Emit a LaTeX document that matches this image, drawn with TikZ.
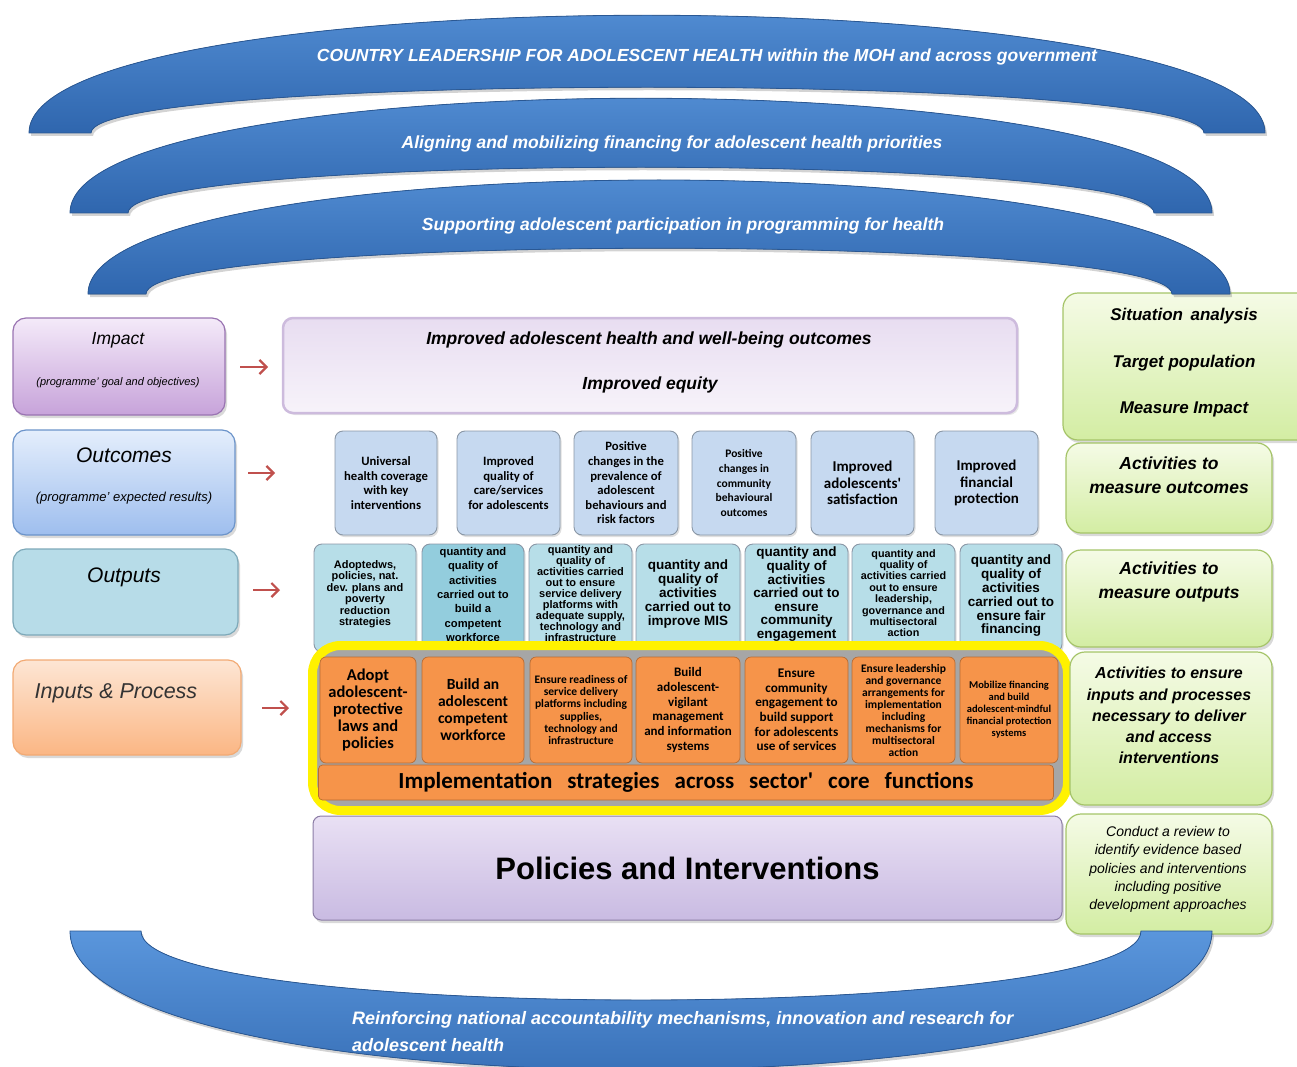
\documentclass[tikz,border=0pt]{standalone}
\usepackage{fontspec}
\setmainfont{Liberation Sans}
\newfontfamily\calibri{Carlito}
\usetikzlibrary{shadows,arrows.meta}

\definecolor{arcTop}{HTML}{5A96DC}
\definecolor{arcBot}{HTML}{2F66AE}
\definecolor{arcEdge}{HTML}{2A5894}
\definecolor{impTop}{HTML}{F4EAF9}
\definecolor{impBot}{HTML}{C7A3DA}
\definecolor{impEdge}{HTML}{9A74B2}
\definecolor{outcTop}{HTML}{E4EEFC}
\definecolor{outcBot}{HTML}{9EBEEE}
\definecolor{outcEdge}{HTML}{6C94CA}
\definecolor{outpFill}{HTML}{B7DCE8}
\definecolor{outpEdge}{HTML}{7EA9B9}
\definecolor{inpTop}{HTML}{FDE6D4}
\definecolor{inpBot}{HTML}{FBB684}
\definecolor{inpEdge}{HTML}{F2AA74}
\definecolor{goalTop}{HTML}{E8DDF1}
\definecolor{goalBot}{HTML}{F7F3FA}
\definecolor{goalEdge}{HTML}{CDBBDD}
\definecolor{resBox}{HTML}{C6D9F0}
\definecolor{boxEdge}{HTML}{8A97A6}
\definecolor{prodBox}{HTML}{B7DEE8}
\definecolor{prodDark}{HTML}{93CDDD}
\definecolor{actBox}{HTML}{F6944A}
\definecolor{actEdge}{HTML}{B86B32}
\definecolor{polTop}{HTML}{E9E0F4}
\definecolor{polBot}{HTML}{C9BBE2}
\definecolor{polEdge}{HTML}{8C7DA6}
\definecolor{greenTop}{HTML}{F5FBE6}
\definecolor{greenBot}{HTML}{D3EDA3}
\definecolor{greenEdge}{HTML}{A5C468}
\definecolor{arrowRed}{HTML}{C0504D}

\tikzset{
  arcband/.style={top color=arcTop, bottom color=arcBot, draw=arcEdge, line width=0.8pt,
    drop shadow={opacity=0.35, shadow xshift=2pt, shadow yshift=-3pt}},
  arctext/.style={text=white, inner sep=0pt, font=\fontsize{17.5}{20}\selectfont\bfseries\itshape},
  leftbox/.style={rounded corners=13pt, line width=1.2pt, inner sep=0pt,
    drop shadow={opacity=0.3, shadow xshift=2pt, shadow yshift=-3pt}},
  lefttitle/.style={inner sep=0pt, font=\fontsize{21}{24}\selectfont\itshape},
  leftnote/.style={inner sep=0pt, font=\fontsize{11}{13}\selectfont\itshape},
  sidebox/.style={rounded corners=15pt, top color=greenTop, bottom color=greenBot, draw=greenEdge,
    line width=1.2pt, inner sep=0pt, drop shadow={opacity=0.3, shadow xshift=2pt, shadow yshift=-3pt}},
  sidetext/.style={inner sep=0pt, align=center, font=\bfseries\itshape},
  resultbox/.style={rounded corners=8pt, fill=resBox, draw=boxEdge, line width=0.9pt, inner sep=0pt,
    align=center, font=\calibri\bfseries, drop shadow={opacity=0.25, shadow xshift=1.5pt, shadow yshift=-2pt}},
  productbox/.style={rounded corners=8pt, fill=prodBox, draw=boxEdge, line width=0.9pt, inner sep=0pt,
    minimum height=108pt, drop shadow={opacity=0.25, shadow xshift=1.5pt, shadow yshift=-2pt}},
  producttext/.style={inner sep=0pt, align=center, anchor=north, font=\bfseries},
  actionbox/.style={rounded corners=6pt, fill=actBox, draw=actEdge, line width=0.7pt, inner sep=0pt,
    minimum height=106pt, align=center, font=\calibri\bfseries},
  redarrow/.style={draw=arrowRed, line width=2.2pt, -{Straight Barb[length=7pt,width=14pt]}}
}

\begin{document}
\begin{tikzpicture}[x=1pt,y=-1pt]
\useasboundingbox (0,0) rectangle (1297,1067);

% left column
\node[leftbox, top color=impTop, bottom color=impBot, draw=impEdge, minimum width=212pt, minimum height=97pt] (impact) at (119,366.5) {};
\node[lefttitle, font=\fontsize{17.5}{20}\selectfont\itshape] (impacttitle) at (118,340) {Impact};
\node[leftnote, font=\fontsize{11}{12}\selectfont\itshape] (impactnote) at (118,383) {(programme' goal and objectives)};

\node[leftbox, top color=outcTop, bottom color=outcBot, draw=outcEdge, minimum width=222pt, minimum height=105pt] (outcomes) at (124,482.5) {};
\node[lefttitle] (outcomestitle) at (124,455) {Outcomes};
\node[leftnote, font=\fontsize{13}{15}\selectfont\itshape] (outcomesnote) at (124,498) {(programme' expected results)};

\node[leftbox, fill=outpFill, draw=outpEdge, minimum width=225pt, minimum height=86pt] (outputs) at (125.5,592) {};
\node[lefttitle] (outputstitle) at (124,577) {Outputs};

\node[leftbox, top color=inpTop, bottom color=inpBot, draw=inpEdge, minimum width=228pt, minimum height=95pt] (inputs) at (127,707.5) {};
\node[lefttitle, text=black!80, font=\fontsize{21.5}{24}\selectfont\itshape] (inputstitle) at (116,693) {Inputs \& Process};

% arrows to the middle
\coordinate (impactfrom) at (240,367);
\coordinate (impactto) at (268,367);
\coordinate (outcomesfrom) at (248,473);
\coordinate (outcomesto) at (275,473);
\coordinate (outputsfrom) at (253,590);
\coordinate (outputsto) at (280,590);
\coordinate (inputsfrom) at (262,708);
\coordinate (inputsto) at (289,708);
\draw[redarrow] (impactfrom) -- (impactto);
\draw[redarrow] (outcomesfrom) -- (outcomesto);
\draw[redarrow] (outputsfrom) -- (outputsto);
\draw[redarrow] (inputsfrom) -- (inputsto);

% impact
\node[rounded corners=10pt, top color=goalTop, bottom color=goalBot, draw=goalEdge, line width=2.5pt,
  minimum width=734pt, minimum height=95pt, drop shadow={opacity=0.2, shadow xshift=2pt, shadow yshift=-2pt}] (goal) at (650,365.5) {};
\node[inner sep=0pt, font=\fontsize{17.5}{19}\selectfont\bfseries\itshape] (goalline1) at (649,340) {Improved adolescent health and well-being outcomes};
\node[inner sep=0pt, font=\fontsize{17.5}{19}\selectfont\bfseries\itshape] (goalline2) at (650,385) {Improved equity};

% outcomes row
\node[resultbox, minimum width=102pt, minimum height=104pt, font=\calibri\bfseries\fontsize{12.7}{14.7}\selectfont] (res1) at (386,483) {Universal\\health coverage\\with key\\interventions};
\node[resultbox, minimum width=103pt, minimum height=104pt, font=\calibri\bfseries\fontsize{12.7}{14.7}\selectfont] (res2) at (508.5,483) {Improved\\quality of\\care/services\\for adolescents};
\node[resultbox, minimum width=104pt, minimum height=104pt, font=\calibri\bfseries\fontsize{12.7}{14.6}\selectfont] (res3) at (626,483) {Positive\\changes in the\\prevalence of\\adolescent\\behaviours and\\risk factors};
\node[resultbox, minimum width=104pt, minimum height=104pt, font=\calibri\bfseries\fontsize{11.5}{14.6}\selectfont] (res4) at (744,483) {Positive\\changes in\\community\\behavioural\\outcomes};
\node[resultbox, minimum width=103pt, minimum height=104pt, font=\calibri\bfseries\fontsize{15}{16.5}\selectfont] (res5) at (862.5,483) {Improved\\adolescents'\\satisfaction};
\node[resultbox, minimum width=103pt, minimum height=104pt, font=\calibri\bfseries\fontsize{15}{16.5}\selectfont] (res6) at (986.5,483) {Improved\\financial\\protection};

% outputs row
\node[productbox, minimum width=102pt] (prod1) at (365,598) {};
\node[productbox, minimum width=102pt, fill=prodDark] (prod2) at (473,598) {};
\node[productbox, minimum width=103pt] (prod3) at (580.5,598) {};
\node[productbox, minimum width=104pt] (prod4) at (688,598) {};
\node[productbox, minimum width=103pt] (prod5) at (796.5,598) {};
\node[productbox, minimum width=103pt] (prod6) at (903.5,598) {};
\node[productbox, minimum width=102pt] (prod7) at (1011,598) {};
\node[producttext, font=\bfseries\fontsize{11}{11.5}\selectfont] (prod1text) at (365,560) {Adoptedws,\\policies, nat.\\dev. plans and\\poverty\\reduction\\strategies};
\node[producttext, font=\bfseries\fontsize{11.2}{14.4}\selectfont] (prod2text) at (473,547) {quantity and\\quality of\\activities\\carried out to\\build a\\competent\\workforce};
\node[producttext, font=\bfseries\fontsize{11}{11}\selectfont] (prod3text) at (580.5,545) {quantity and\\quality of\\activities carried\\out to ensure\\service delivery\\platforms with\\adequate supply,\\technology and\\infrastructure};
\node[producttext, font=\bfseries\fontsize{13.5}{13.8}\selectfont] (prod4text) at (688,560) {quantity and\\quality of\\activities\\carried out to\\improve MIS};
\node[producttext, font=\bfseries\fontsize{13.5}{13.6}\selectfont] (prod5text) at (796.5,547) {quantity and\\quality of\\activities\\carried out to\\ensure\\community\\engagement};
\node[producttext, font=\bfseries\fontsize{10.8}{11.4}\selectfont] (prod6text) at (903.5,549) {quantity and\\quality of\\activities carried\\out to ensure\\leadership,\\governance and\\multisectoral\\action};
\node[producttext, font=\bfseries\fontsize{13.5}{13.8}\selectfont] (prod7text) at (1011,555) {quantity and\\quality of\\activities\\carried out to\\ensure fair\\financing};

% inputs and processes in the yellow frame
\node[rounded corners=28pt, draw=yellow, line width=9pt, fill=black!35, minimum width=755pt, minimum height=165pt] (frame) at (690,728) {};
\node[actionbox, minimum width=96pt, font=\calibri\bfseries\fontsize{16.5}{17}\selectfont] (act1) at (368,710) {Adopt\\adolescent-\\protective\\laws and\\policies};
\node[actionbox, minimum width=102pt, font=\calibri\bfseries\fontsize{15.5}{17}\selectfont] (act2) at (473,710) {Build an\\adolescent\\competent\\workforce};
\node[actionbox, minimum width=102pt, font=\calibri\bfseries\fontsize{11.5}{12.3}\selectfont] (act3) at (581,710) {Ensure readiness of\\service delivery\\platforms including\\supplies,\\technology and\\infrastructure};
\node[actionbox, minimum width=104pt, font=\calibri\bfseries\fontsize{13}{14.7}\selectfont] (act4) at (688,710) {Build\\adolescent-\\vigilant\\management\\and information\\systems};
\node[actionbox, minimum width=103pt, font=\calibri\bfseries\fontsize{13.2}{14.7}\selectfont] (act5) at (796.5,710) {Ensure\\community\\engagement to\\build support\\for adolescents\\use of services};
\node[actionbox, minimum width=103pt, font=\calibri\bfseries\fontsize{11.5}{12}\selectfont] (act6) at (903.5,710) {Ensure leadership\\and governance\\arrangements for\\implementation\\including\\mechanisms for\\multisectoral\\action};
\node[actionbox, minimum width=98pt, font=\calibri\bfseries\fontsize{10.5}{12}\selectfont] (act7) at (1009,710) {Mobilize financing\\and build\\adolescent-mindful\\financial protection\\systems};
\node[rounded corners=4pt, fill=actBox, draw=actEdge, line width=0.7pt, minimum width=735pt, minimum height=35pt, inner sep=0pt,
  font=\calibri\bfseries\fontsize{23}{25}\selectfont] (strategies) at (686,782.5) {\spaceskip=15pt\relax Implementation strategies across sector' core functions};

% policies
\node[rounded corners=8pt, top color=polTop, bottom color=polBot, draw=polEdge, line width=1pt,
  minimum width=749pt, minimum height=104pt, font=\fontsize{31}{34}\selectfont\bfseries,
  drop shadow={opacity=0.3, shadow xshift=2pt, shadow yshift=-3pt}] (policies) at (687.5,868) {Policies and Interventions};

% right column
\node[sidebox, minimum width=249pt, minimum height=147pt] (situation) at (1187.5,366.5) {};
\node[sidetext, font=\fontsize{17}{46.5}\selectfont\bfseries\itshape] (situationtext) at (1184,363) {Situation\, analysis\\Target population\\Measure Impact};
\node[sidebox, minimum width=206pt, minimum height=90pt] (measureoutc) at (1169,488) {};
\node[sidetext, font=\fontsize{17.5}{24}\selectfont\bfseries\itshape] (measureoutctext) at (1169,475) {Activities to\\measure outcomes};
\node[sidebox, minimum width=206pt, minimum height=97pt] (measureoutp) at (1169,598.5) {};
\node[sidetext, font=\fontsize{17.5}{24}\selectfont\bfseries\itshape] (measureoutptext) at (1169,582) {Activities to\\measure outputs};
\node[sidebox, minimum width=202pt, minimum height=153pt] (ensure) at (1171,728.5) {};
\node[sidetext, font=\fontsize{16}{21.2}\selectfont\bfseries\itshape] (ensuretext) at (1169,715.5) {Activities to ensure\\inputs and processes\\necessary to deliver\\and access\\interventions};
\node[sidebox, minimum width=206pt, minimum height=120pt] (review) at (1169,874) {};
\node[sidetext, font=\fontsize{14}{18.3}\selectfont\itshape] (reviewtext) at (1168,869.5) {Conduct a review to\\identify evidence based\\policies and interventions\\including positive\\development approaches};

% blue bands
\fill[arcband] (29,133) .. controls (29,-24) and (1265,-24) .. (1265,133) -- (1204,133) .. controls (1204,72) and (91,72) .. (91,133) -- cycle;
\fill[arcband] (70,213) .. controls (70,60) and (1212,60) .. (1212,213) -- (1154,213) .. controls (1154,152) and (128,152) .. (128,213) -- cycle;
\fill[arcband] (88,294) .. controls (88,142) and (1230,142) .. (1230,294) -- (1172,294) .. controls (1172,233) and (146,233) .. (146,294) -- cycle;
\fill[arcband] (70,931) .. controls (70,1116) and (1212,1116) .. (1212,931) -- (1141,931) .. controls (1141,1023) and (141,1023) .. (141,931) -- cycle;
\node[arctext] (leadership) at (707,57) {COUNTRY LEADERSHIP FOR ADOLESCENT HEALTH within the MOH and across government};
\node[arctext] (financing) at (672,144) {Aligning and mobilizing financing for adolescent health priorities};
\node[arctext] (participation) at (683,226) {Supporting adolescent participation in programming for health};
\node[arctext, anchor=west, align=left, font=\fontsize{18}{27}\selectfont\bfseries\itshape] (accountability) at (352,1031.5) {Reinforcing national accountability mechanisms, innovation and research for\\adolescent health};

\end{tikzpicture}
\end{document}
